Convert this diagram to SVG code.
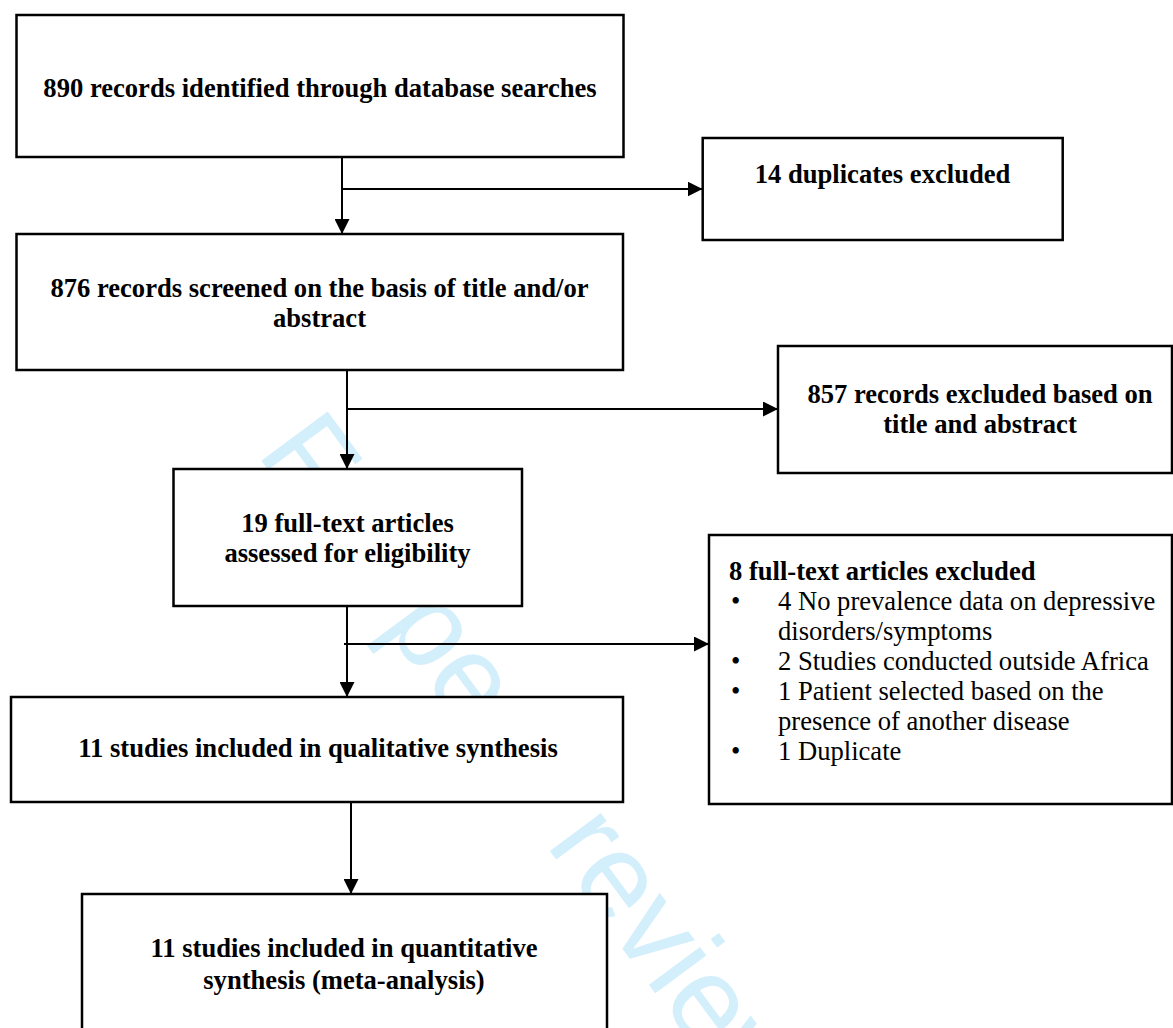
<svg xmlns="http://www.w3.org/2000/svg" width="1173" height="1028" viewBox="0 0 1173 1028">
<style>
.box{fill:#fff;stroke:#000;stroke-width:2.5}
.t{font-family:"Liberation Serif","Times New Roman",serif;font-size:26.6px;fill:#000}
.b{font-weight:bold}
.c{text-anchor:middle}
.ln{fill:none;stroke:#000;stroke-width:2}
.wm{font-family:"Liberation Sans",Arial,sans-serif;font-size:120px;fill:#d4effc}
</style>
<defs>
<marker id="ah" markerUnits="userSpaceOnUse" markerWidth="15" markerHeight="15" refX="15" refY="7.5" orient="auto">
<path d="M0,0 L15,7.5 L0,15 z" fill="#000"/>
</marker>
</defs>
<rect width="1173" height="1028" fill="#fff"/>
<text class="wm" transform="translate(255.4,452.8) rotate(53.5)">For peer review</text>
<g id="connectors">
<line class="ln" x1="342" y1="157" x2="342" y2="234" marker-end="url(#ah)"/>
<line class="ln" x1="342" y1="189" x2="702.5" y2="189" marker-end="url(#ah)"/>
<line class="ln" x1="347" y1="370" x2="347" y2="469" marker-end="url(#ah)"/>
<line class="ln" x1="347" y1="409" x2="778" y2="409" marker-end="url(#ah)"/>
<line class="ln" x1="347" y1="606" x2="347" y2="697" marker-end="url(#ah)"/>
<line class="ln" x1="344" y1="644" x2="709" y2="644" marker-end="url(#ah)"/>
<line class="ln" x1="351" y1="802" x2="351" y2="894" marker-end="url(#ah)"/>
</g>
<g id="n1">
<rect class="box" x="16.5" y="15" width="607" height="142"/>
<text class="t b c" x="320" y="97">890 records identified through database searches</text>
</g>
<g id="n2">
<rect class="box" x="702.7" y="138" width="360" height="102"/>
<text class="t b c" x="882.5" y="183">14 duplicates excluded</text>
</g>
<g id="n3">
<rect class="box" x="16.5" y="234" width="606.5" height="136"/>
<text class="t b c" x="319.5" y="297">876 records screened on the basis of title and/or</text>
<text class="t b c" x="319.5" y="327">abstract</text>
</g>
<g id="n4">
<rect class="box" x="778" y="346" width="394" height="127"/>
<text class="t b c" x="980" y="403">857 records excluded based on</text>
<text class="t b c" x="980" y="433">title and abstract</text>
</g>
<g id="n5">
<rect class="box" x="173.5" y="469" width="348.5" height="137"/>
<text class="t b c" x="347.5" y="532">19 full-text articles</text>
<text class="t b c" x="347.5" y="562">assessed for eligibility</text>
</g>
<g id="n6">
<rect class="box" x="709" y="535" width="463" height="269"/>
<text class="t b" x="729" y="580">8 full-text articles excluded</text>
<text class="t" x="731" y="610">•</text>
<text class="t" x="778" y="610">4 No prevalence data on depressive</text>
<text class="t" x="778" y="640">disorders/symptoms</text>
<text class="t" x="731" y="670">•</text>
<text class="t" x="778" y="670">2 Studies conducted outside Africa</text>
<text class="t" x="731" y="700">•</text>
<text class="t" x="778" y="700">1 Patient selected based on the</text>
<text class="t" x="778" y="730">presence of another disease</text>
<text class="t" x="731" y="760">•</text>
<text class="t" x="778" y="760">1 Duplicate</text>
</g>
<g id="n7">
<rect class="box" x="11" y="697" width="612" height="105"/>
<text class="t b c" x="318" y="757">11 studies included in qualitative synthesis</text>
</g>
<g id="n8">
<rect class="box" x="82" y="894" width="525" height="150"/>
<text class="t b c" x="344" y="957">11 studies included in quantitative</text>
<text class="t b c" x="344" y="989">synthesis (meta-analysis)</text>
</g>
</svg>
